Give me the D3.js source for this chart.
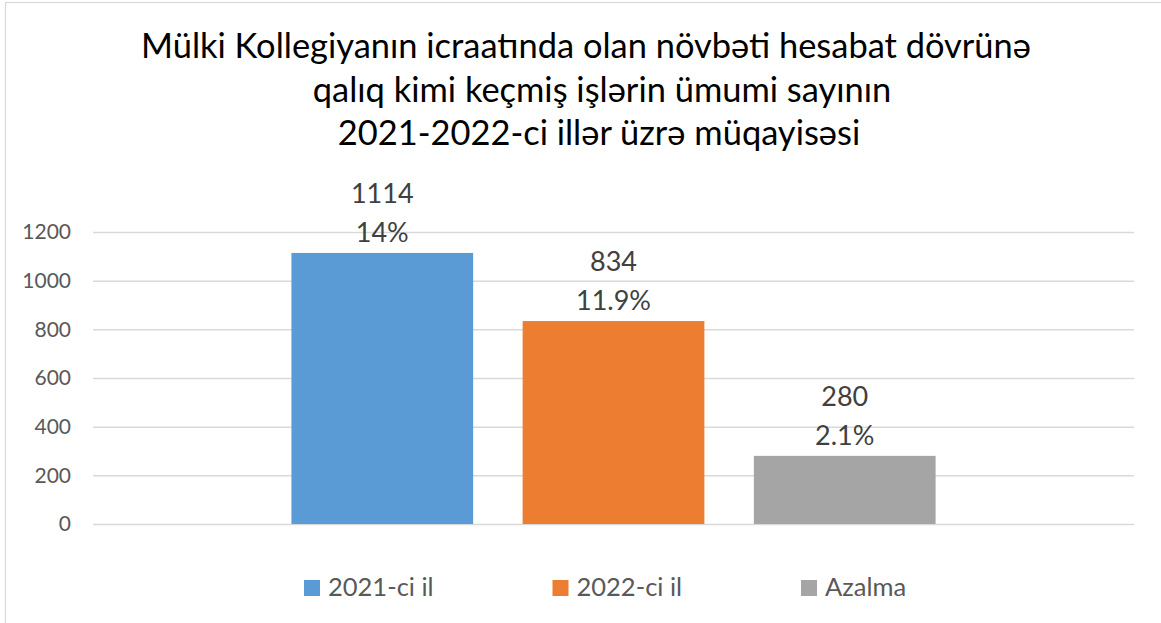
<!DOCTYPE html>
<html>
<head>
<meta charset="utf-8">
<script src="https://cdn.jsdelivr.net/npm/d3@7"></script>
<style>
  body { margin: 0; background: #fff; }
  svg text { font-family: Lato, "Noto Sans", sans-serif; }
</style>
</head>
<body>
<div id="main"></div>
<script>
// chart data
var titleLines = [
  'Mülki Kollegiyanın icraatında olan növbəti hesabat dövrünə',
  'qalıq kimi keçmiş işlərin ümumi sayının',
  '2021-2022-ci illər üzrə müqayisəsi'
];
var seriesNames = ['2021-ci il', '2022-ci il', 'Azalma'];
var seriesValues = [1114, 834, 280];
var seriesPercents = ['14%', '11.9%', '2.1%'];
var yTicks = [0, 200, 400, 600, 800, 1000, 1200];
var colors = ['#5B9BD5', '#ED7D31', '#A5A5A5'];

function Chart() {
  this.width = 1161;
  this.height = 623;
  this.plot = {left: 93, right: 1134, top: 232, bottom: 524};
}

Chart.prototype.init = function() {
  this.svg = d3.select('#main')
    .append('svg')
    .attr('width', this.width)
    .attr('height', this.height);

  // chart area border (right/bottom edges fall outside the picture)
  this.svg.append('rect')
    .attr('x', 5.5)
    .attr('y', 2.5)
    .attr('width', 1200)
    .attr('height', 700)
    .attr('fill', '#fff')
    .attr('stroke', '#D9D9D9')
    .attr('stroke-width', 1.2);
};

Chart.prototype.render = function() {
  var p = this.plot;

  var y = d3.scaleLinear()
    .domain([0, 1200])
    .range([p.bottom, p.top]);

  var x0 = d3.scaleBand()
    .domain(['all'])
    .range([p.left, p.right])
    .paddingOuter(0.308);

  var x1 = d3.scaleBand()
    .domain(seriesNames)
    .range([x0('all'), x0('all') + x0.bandwidth()])
    .paddingInner(0.214);

  // gridlines + tick labels
  var yAxis = d3.axisLeft(y)
    .tickValues(yTicks)
    .tickFormat(d3.format('d'))
    .tickSize(-(p.right - p.left))
    .tickPadding(22);

  var ga = this.svg.append('g')
    .attr('transform', 'translate(' + p.left + ',0)')
    .call(yAxis);
  ga.select('.domain').remove();
  ga.selectAll('.tick line')
    .attr('stroke', '#D9D9D9')
    .attr('stroke-width', 1.5);
  ga.selectAll('.tick text')
    .attr('fill', '#595959')
    .attr('font-size', '21px')
    .style('font-family', 'Lato, "Noto Sans", sans-serif');

  var data = seriesNames.map(function(n, i) {
    return {name: n, value: seriesValues[i], pct: seriesPercents[i], color: colors[i]};
  });

  // bars
  this.svg.selectAll('rect.bar')
    .data(data)
    .enter()
    .append('rect')
    .attr('class', 'bar')
    .attr('x', function(d) { return x1(d.name); })
    .attr('y', function(d) { return y(d.value); })
    .attr('width', x1.bandwidth())
    .attr('height', function(d) { return y(0) - y(d.value); })
    .attr('fill', function(d) { return d.color; });

  // value labels
  var lbl = this.svg.selectAll('g.lbl')
    .data(data)
    .enter()
    .append('g')
    .attr('class', 'lbl');

  lbl.append('text')
    .attr('x', function(d) { return x1(d.name) + x1.bandwidth() / 2; })
    .attr('y', function(d) { return y(d.value) - 50; })
    .attr('text-anchor', 'middle')
    .attr('font-size', '27px')
    .attr('fill', '#404040')
    .text(function(d) { return d.value; });

  lbl.append('text')
    .attr('x', function(d) { return x1(d.name) + x1.bandwidth() / 2; })
    .attr('y', function(d) { return y(d.value) - 11; })
    .attr('text-anchor', 'middle')
    .attr('font-size', '27px')
    .attr('fill', '#404040')
    .text(function(d) { return d.pct; });

  // legend
  var lx = d3.scalePoint()
    .domain(seriesNames)
    .range([304, 801]);

  var lg = this.svg.selectAll('g.legend')
    .data(data)
    .enter()
    .append('g')
    .attr('class', 'legend')
    .attr('transform', function(d) { return 'translate(' + lx(d.name) + ',580)'; });

  lg.append('rect')
    .attr('width', 16)
    .attr('height', 16)
    .attr('fill', function(d) { return d.color; });

  lg.append('text')
    .attr('x', 24)
    .attr('y', 16)
    .attr('font-size', '25.5px')
    .attr('fill', '#595959')
    .text(function(d) { return d.name; });

  // title
  var tx = [586, 602, 599];
  var title = this.svg.selectAll('text.title')
    .data(titleLines)
    .enter()
    .append('text')
    .attr('class', 'title')
    .attr('x', function(d, i) { return tx[i]; })
    .attr('y', function(d, i) { return 58 + i * 43.5; })
    .attr('text-anchor', 'middle')
    .attr('font-size', '32px')
    .attr('fill', '#000')
    .text(function(d) { return d; });

  // fit the first line to the reference width
  var w = title.node().getComputedTextLength();
  var fs = 32 * 890 / w;
  title.attr('font-size', fs + 'px');
};

document.addEventListener('DOMContentLoaded', function() {
  var c = new Chart();
  c.init();
  c.render();
});
</script>
</body>
</html>
